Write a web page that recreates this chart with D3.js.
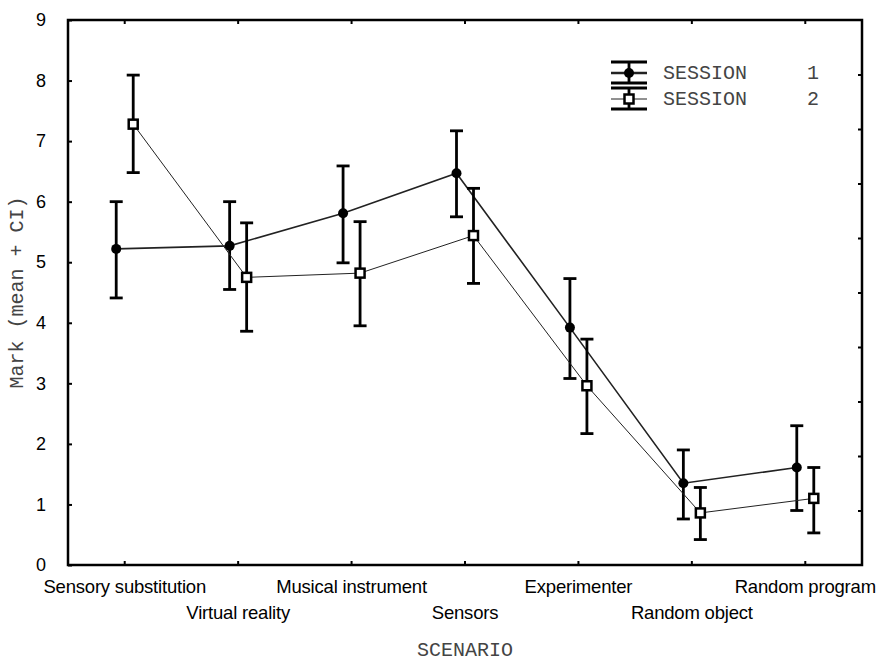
<!DOCTYPE html>
<html>
<head>
<meta charset="utf-8">
<script src="https://cdn.jsdelivr.net/npm/d3@7"></script>
<style>
    body { margin: 0; background: #fff; }
    text { white-space: pre; }
</style>
</head>
<body>
<div class="chart-container"></div>
<script>
const scenarios = [
    "Sensory substitution",
    "Virtual reality",
    "Musical instrument",
    "Sensors",
    "Experimenter",
    "Random object",
    "Random program"
];
const sessions = ["1", "2"];
const session1Mean = [5.22, 5.27, 5.81, 6.47, 3.92, 1.35, 1.61];
const session1Low = [4.41, 4.55, 4.99, 5.75, 3.08, 0.76, 0.90];
const session1High = [6.00, 6.00, 6.59, 7.17, 4.73, 1.90, 2.30];
const session2Mean = [7.28, 4.75, 4.82, 5.44, 2.96, 0.86, 1.10];
const session2Low = [6.48, 3.86, 3.95, 4.65, 2.17, 0.42, 0.53];
const session2High = [8.09, 5.65, 5.67, 6.22, 3.73, 1.28, 1.61];
const yTicks = [0, 1, 2, 3, 4, 5, 6, 7, 8, 9];
const rightTicks = [1, 2, 3, 4, 5, 6, 7, 8, 9];
const legendLabels = ["SESSION     1", "SESSION     2"];

const Chart = {
    width: 880,
    height: 663,
    margin: { top: 20, right: 18, bottom: 98, left: 68 },
    load: function() {
        const m = this.margin;
        const w = this.width - m.left - m.right;
        const h = this.height - m.top - m.bottom;

        const svg = d3.select(".chart-container")
            .append("svg")
            .attr("width", this.width)
            .attr("height", this.height);

        const g = svg.append("g")
            .attr("transform", `translate(${m.left},${m.top})`);

        const xScale = d3.scaleBand().domain(scenarios).range([0, w]).padding(0);
        const offset = d3.scalePoint().domain(sessions).range([-8.5, 8.5]);
        const yScale = d3.scaleLinear().domain([0, 9]).range([h, 0]);
        // right hand axis in the original has its own 10-step division
        const rightScale = d3.scaleLinear().domain([0, 10]).range([h, 0]);
        const cx = (d) => xScale(d) + xScale.bandwidth() / 2;

        // frame ticks (inward)
        g.append("g")
            .call(d3.axisLeft(yScale).tickValues(yTicks).tickSize(-4).tickPadding(22).tickFormat(d3.format("d")))
            .call((a) => a.select(".domain").remove())
            .call((a) => a.selectAll("line").attr("stroke-width", 2))
            .call((a) => a.selectAll("text").attr("font-family", "Liberation Sans, Arial, sans-serif").attr("font-size", 18).attr("fill", "#000"));

        g.append("g")
            .attr("transform", `translate(${w},0)`)
            .call(d3.axisRight(rightScale).tickValues(rightTicks).tickSize(-4).tickFormat(""))
            .call((a) => a.select(".domain").remove())
            .call((a) => a.selectAll("line").attr("stroke-width", 2));

        g.append("g")
            .attr("transform", `translate(0,${h})`)
            .call(d3.axisBottom(xScale).tickSize(-4).tickFormat(""))
            .call((a) => a.select(".domain").remove())
            .call((a) => a.selectAll("line").attr("stroke-width", 2));

        g.append("g")
            .call(d3.axisTop(xScale).tickSize(-4).tickFormat(""))
            .call((a) => a.select(".domain").remove())
            .call((a) => a.selectAll("line").attr("stroke-width", 2));

        g.append("rect")
            .attr("width", w)
            .attr("height", h)
            .attr("fill", "none")
            .attr("stroke", "#000")
            .attr("stroke-width", 2.5);

        // category labels, staggered in two rows
        g.selectAll(".xlabel")
            .data(scenarios)
            .enter().append("text")
            .attr("class", "xlabel")
            .attr("x", (d) => cx(d))
            .attr("y", (d, i) => h + (i % 2 === 0 ? 28 : 54))
            .attr("text-anchor", "middle")
            .attr("font-family", "Liberation Sans, Arial, sans-serif")
            .attr("font-size", 18.5)
            .attr("letter-spacing", -0.2)
            .text((d) => d);

        svg.append("text")
            .attr("x", m.left + w / 2)
            .attr("y", 656)
            .attr("text-anchor", "middle")
            .attr("font-family", "Liberation Mono, Courier New, monospace")
            .attr("font-size", 20)
            .attr("fill", "#444")
            .text("SCENARIO");

        svg.append("text")
            .attr("transform", `translate(23,${m.top + h / 2}) rotate(-90)`)
            .attr("text-anchor", "middle")
            .attr("font-family", "Liberation Mono, Courier New, monospace")
            .attr("font-size", 20)
            .attr("fill", "#444")
            .text("Mark (mean + CI)");

        const series = [
            { key: "1", mean: session1Mean, low: session1Low, high: session1High, lw: 1.6 },
            { key: "2", mean: session2Mean, low: session2Low, high: session2High, lw: 1 }
        ];

        const line = d3.line()
            .x((d) => d.x)
            .y((d) => yScale(d.v));

        series.forEach((s) => {
            const pts = scenarios.map((c, i) => ({
                x: cx(c) + offset(s.key),
                v: s.mean[i],
                lo: s.low[i],
                hi: s.high[i]
            }));

            g.append("path")
                .datum(pts)
                .attr("d", line)
                .attr("fill", "none")
                .attr("stroke", "#222")
                .attr("stroke-width", s.lw);

            const bars = g.append("g")
                .attr("stroke", "#000")
                .attr("stroke-width", 2.8);

            bars.selectAll(".v").data(pts).enter().append("line")
                .attr("x1", (d) => d.x).attr("x2", (d) => d.x)
                .attr("y1", (d) => yScale(d.lo)).attr("y2", (d) => yScale(d.hi));
            bars.selectAll(".hi").data(pts).enter().append("line")
                .attr("x1", (d) => d.x - 6.5).attr("x2", (d) => d.x + 6.5)
                .attr("y1", (d) => yScale(d.hi)).attr("y2", (d) => yScale(d.hi));
            bars.selectAll(".lo").data(pts).enter().append("line")
                .attr("x1", (d) => d.x - 6.5).attr("x2", (d) => d.x + 6.5)
                .attr("y1", (d) => yScale(d.lo)).attr("y2", (d) => yScale(d.lo));

            this.marker(g, s.key, pts.map((d) => [d.x, yScale(d.v)]));
        });

        // legend
        const lg = svg.append("g").attr("transform", "translate(611,0)");
        legendLabels.forEach((label, i) => {
            const y0 = 73 + i * 26;
            const row = lg.append("g");
            row.append("line")
                .attr("x1", 0).attr("x2", 36).attr("y1", y0).attr("y2", y0)
                .attr("stroke", "#222").attr("stroke-width", i === 0 ? 2.5 : 1);
            [y0 - 11, y0 + 10].forEach((yy) => {
                row.append("line")
                    .attr("x1", 0).attr("x2", 36).attr("y1", yy).attr("y2", yy)
                    .attr("stroke", "#000").attr("stroke-width", 2.8);
            });
            row.append("line")
                .attr("x1", 18).attr("x2", 18).attr("y1", y0 - 11).attr("y2", y0 + 10)
                .attr("stroke", "#000").attr("stroke-width", 2.8);
            this.marker(row, sessions[i], [[18, y0]]);
            row.append("text")
                .attr("x", 52)
                .attr("y", y0 + 6)
                .attr("font-family", "Liberation Mono, Courier New, monospace")
                .attr("font-size", 20)
                .attr("fill", "#444")
                .text(label);
        });
    },
    marker: function(parent, key, pts) {
        if (key === "1") {
            parent.selectAll(null).data(pts).enter().append("circle")
                .attr("cx", (d) => d[0]).attr("cy", (d) => d[1])
                .attr("r", 5)
                .attr("fill", "#000");
        } else {
            parent.selectAll(null).data(pts).enter().append("rect")
                .attr("x", (d) => d[0] - 4.5).attr("y", (d) => d[1] - 4.5)
                .attr("width", 9).attr("height", 9)
                .attr("fill", "#fff")
                .attr("stroke", "#000")
                .attr("stroke-width", 2.5);
        }
    }
};

Chart.load();
</script>
</body>
</html>
